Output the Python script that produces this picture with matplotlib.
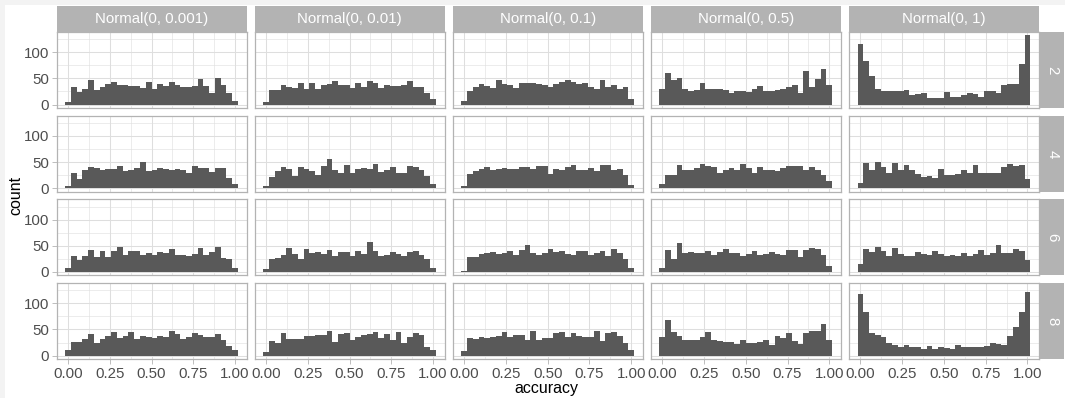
import matplotlib
matplotlib.use("Agg")
import matplotlib.pyplot as plt
import numpy as np
from matplotlib.patches import Rectangle

plt.rcParams["font.family"] = ["Liberation Sans", "DejaVu Sans"]

# facet labels
sd_labels = ["Normal(0, 0.001)", "Normal(0, 0.01)", "Normal(0, 0.1)",
             "Normal(0, 0.5)", "Normal(0, 1)"]
layer_labels = ["2", "4", "6", "8"]

# 30 bins of width 1/29, centred on 0, 1/29, ..., 1
l2_sd0001 = [5, 33, 24, 29, 46, 28, 33, 39, 43, 37, 38, 36, 36, 31, 43, 29, 39, 35, 43, 38, 33, 34, 36, 48, 36, 22, 50, 37, 22, 7]
l2_sd001 = [5, 28, 28, 37, 33, 31, 42, 30, 42, 30, 37, 40, 45, 37, 37, 31, 42, 33, 45, 42, 31, 37, 36, 36, 38, 45, 34, 34, 22, 11]
l2_sd01 = [7, 25, 33, 39, 35, 31, 46, 40, 37, 32, 42, 41, 42, 39, 37, 33, 40, 43, 46, 43, 40, 41, 34, 30, 46, 33, 38, 30, 33, 11]
l2_sd05 = [30, 60, 47, 50, 30, 26, 28, 42, 30, 30, 30, 28, 22, 25, 25, 24, 30, 36, 26, 26, 28, 30, 34, 37, 22, 65, 33, 48, 68, 38]
l2_sd1 = [116, 83, 54, 30, 25, 25, 26, 26, 28, 18, 20, 22, 13, 12, 13, 24, 15, 15, 18, 22, 20, 15, 26, 25, 23, 37, 39, 40, 78, 132]

l4_sd0001 = [4, 29, 18, 35, 40, 38, 35, 37, 36, 42, 33, 35, 38, 50, 33, 35, 38, 37, 35, 37, 35, 30, 42, 38, 38, 31, 38, 38, 19, 8]
l4_sd001 = [4, 22, 33, 40, 36, 24, 41, 37, 33, 26, 42, 56, 34, 29, 45, 30, 37, 39, 37, 46, 31, 35, 41, 29, 29, 42, 40, 35, 24, 8]
l4_sd01 = [5, 27, 33, 36, 40, 34, 37, 38, 37, 37, 41, 41, 37, 43, 43, 28, 36, 35, 40, 44, 35, 35, 38, 33, 44, 44, 35, 37, 25, 7]
l4_sd05 = [8, 26, 26, 44, 35, 35, 38, 46, 43, 40, 29, 35, 38, 35, 46, 38, 29, 41, 35, 35, 33, 38, 42, 43, 43, 35, 40, 34, 25, 13]
l4_sd1 = [10, 49, 35, 50, 40, 30, 49, 35, 44, 35, 28, 22, 24, 20, 37, 26, 26, 27, 35, 30, 45, 30, 29, 30, 29, 40, 47, 43, 44, 18]

l6_sd0001 = [7, 31, 23, 31, 42, 29, 40, 28, 40, 47, 33, 40, 40, 33, 37, 32, 38, 36, 44, 33, 33, 31, 35, 45, 32, 38, 47, 27, 25, 7]
l6_sd001 = [6, 25, 27, 33, 46, 34, 25, 44, 37, 38, 34, 41, 30, 39, 38, 30, 40, 35, 58, 40, 31, 32, 38, 34, 30, 38, 40, 33, 25, 8]
l6_sd01 = [2, 29, 29, 34, 37, 39, 35, 37, 40, 33, 41, 51, 36, 33, 37, 43, 38, 40, 35, 33, 40, 40, 33, 36, 40, 30, 43, 37, 25, 8]
l6_sd05 = [8, 42, 25, 55, 36, 39, 36, 37, 40, 33, 38, 44, 37, 36, 31, 35, 40, 33, 35, 38, 34, 32, 41, 41, 28, 41, 45, 43, 33, 11]
l6_sd1 = [15, 44, 38, 48, 40, 30, 45, 34, 31, 30, 38, 35, 32, 40, 35, 31, 33, 30, 36, 30, 34, 41, 32, 37, 52, 36, 37, 44, 40, 22]

l8_sd0001 = [10, 27, 27, 31, 41, 24, 31, 37, 46, 34, 38, 45, 32, 37, 35, 33, 38, 35, 48, 41, 31, 36, 43, 40, 36, 36, 41, 30, 19, 10]
l8_sd001 = [7, 28, 25, 43, 32, 32, 32, 38, 38, 40, 40, 48, 27, 42, 43, 29, 36, 39, 42, 46, 34, 42, 29, 45, 24, 35, 43, 40, 17, 11]
l8_sd01 = [9, 33, 31, 35, 33, 35, 37, 46, 35, 40, 40, 29, 48, 30, 33, 34, 43, 46, 35, 43, 37, 35, 35, 47, 28, 43, 45, 38, 25, 10]
l8_sd05 = [35, 69, 46, 38, 30, 30, 30, 36, 45, 30, 28, 27, 27, 22, 30, 24, 25, 26, 29, 20, 37, 33, 43, 28, 23, 44, 47, 47, 60, 30]
l8_sd1 = [118, 83, 43, 39, 35, 24, 20, 16, 20, 16, 17, 12, 18, 13, 16, 14, 13, 20, 17, 17, 17, 17, 18, 25, 23, 20, 37, 55, 83, 122]

grid_counts = [
    [l2_sd0001, l2_sd001, l2_sd01, l2_sd05, l2_sd1],
    [l4_sd0001, l4_sd001, l4_sd01, l4_sd05, l4_sd1],
    [l6_sd0001, l6_sd001, l6_sd01, l6_sd05, l6_sd1],
    [l8_sd0001, l8_sd001, l8_sd01, l8_sd05, l8_sd1],
]

W, H = 1065, 398
fig = plt.figure(figsize=(W / 100, H / 100), dpi=100, facecolor="#f3f3f3")
fig.patches.append(Rectangle((5 / W, 0), 1, 1 - 5 / H, transform=fig.transFigure,
                             facecolor="white", edgecolor="none", zorder=-10))


def px_axes(x, y, w, h, **kw):
    # pixel box measured from the top-left corner
    return fig.add_axes([x / W, 1 - (y + h) / H, w / W, h / H], **kw)


STRIP = "#b3b3b3"
GRID = "#dedede"
TICK_TXT = "#4d4d4d"

binw = 1 / 29
centres = np.arange(30) * binw
ymax = max(max(c) for row in grid_counts for c in row)
xlo, xhi = -binw / 2, 1 + binw / 2
xpad = (xhi - xlo) * 0.05

left0, col_step, pw = 56.5, 198.1, 190
top0, row_step, ph = 32, 83.7, 76

for i, row in enumerate(grid_counts):
    for j, counts in enumerate(row):
        x0 = left0 + j * col_step
        y0 = top0 + i * row_step
        ax = px_axes(x0, y0, pw, ph)
        ax.bar(centres, counts, width=binw, color="#595959", linewidth=0, zorder=2)
        ax.set_xlim(xlo - xpad, xhi + xpad)
        ax.set_ylim(-ymax * 0.05, ymax * 1.05)
        ax.set_xticks([0, 0.25, 0.5, 0.75, 1])
        ax.set_xticks([0.125, 0.375, 0.625, 0.875], minor=True)
        ax.set_yticks([0, 50, 100])
        ax.set_yticks([25, 75, 125], minor=True)
        ax.grid(which="major", color=GRID, linewidth=0.75, zorder=0)
        ax.grid(which="minor", color=GRID, linewidth=0.4, zorder=0)
        ax.set_axisbelow(True)
        for s in ax.spines.values():
            s.set_color(STRIP)
            s.set_linewidth(0.9)
        ax.tick_params(which="minor", length=0)
        ax.tick_params(which="major", length=3.5, width=0.6, color=STRIP,
                       labelcolor=TICK_TXT, labelsize=10.8, pad=2)
        ax.tick_params(axis="x", bottom=(i == 3), labelbottom=(i == 3))
        ax.tick_params(axis="y", left=(j == 0), labelleft=(j == 0))
        ax.set_xticklabels(["0.00", "0.25", "0.50", "0.75", "1.00"])

        if i == 0:
            st = px_axes(x0, 6, pw, 25.5)
            st.set_facecolor(STRIP)
            st.set_xticks([])
            st.set_yticks([])
            for s in st.spines.values():
                s.set_visible(False)
            st.text(0.5, 0.5, sd_labels[j], color="white", fontsize=10.8,
                    ha="center", va="center", transform=st.transAxes)
        if j == 4:
            st = px_axes(x0 + pw + 1.5, y0, 23.5, ph)
            st.set_facecolor(STRIP)
            st.set_xticks([])
            st.set_yticks([])
            for s in st.spines.values():
                s.set_visible(False)
            st.text(0.5, 0.5, layer_labels[i], color="white", fontsize=10.8,
                    rotation=-90, ha="center", va="center", transform=st.transAxes)

fig.text(546 / W, 1 - 388 / H, "accuracy", fontsize=11.5, ha="center", va="center")
fig.text(16 / W, 1 - 195 / H, "count", fontsize=11.5, rotation=90,
         ha="center", va="center")

fig.savefig("out.png", dpi=100, facecolor=fig.get_facecolor())
